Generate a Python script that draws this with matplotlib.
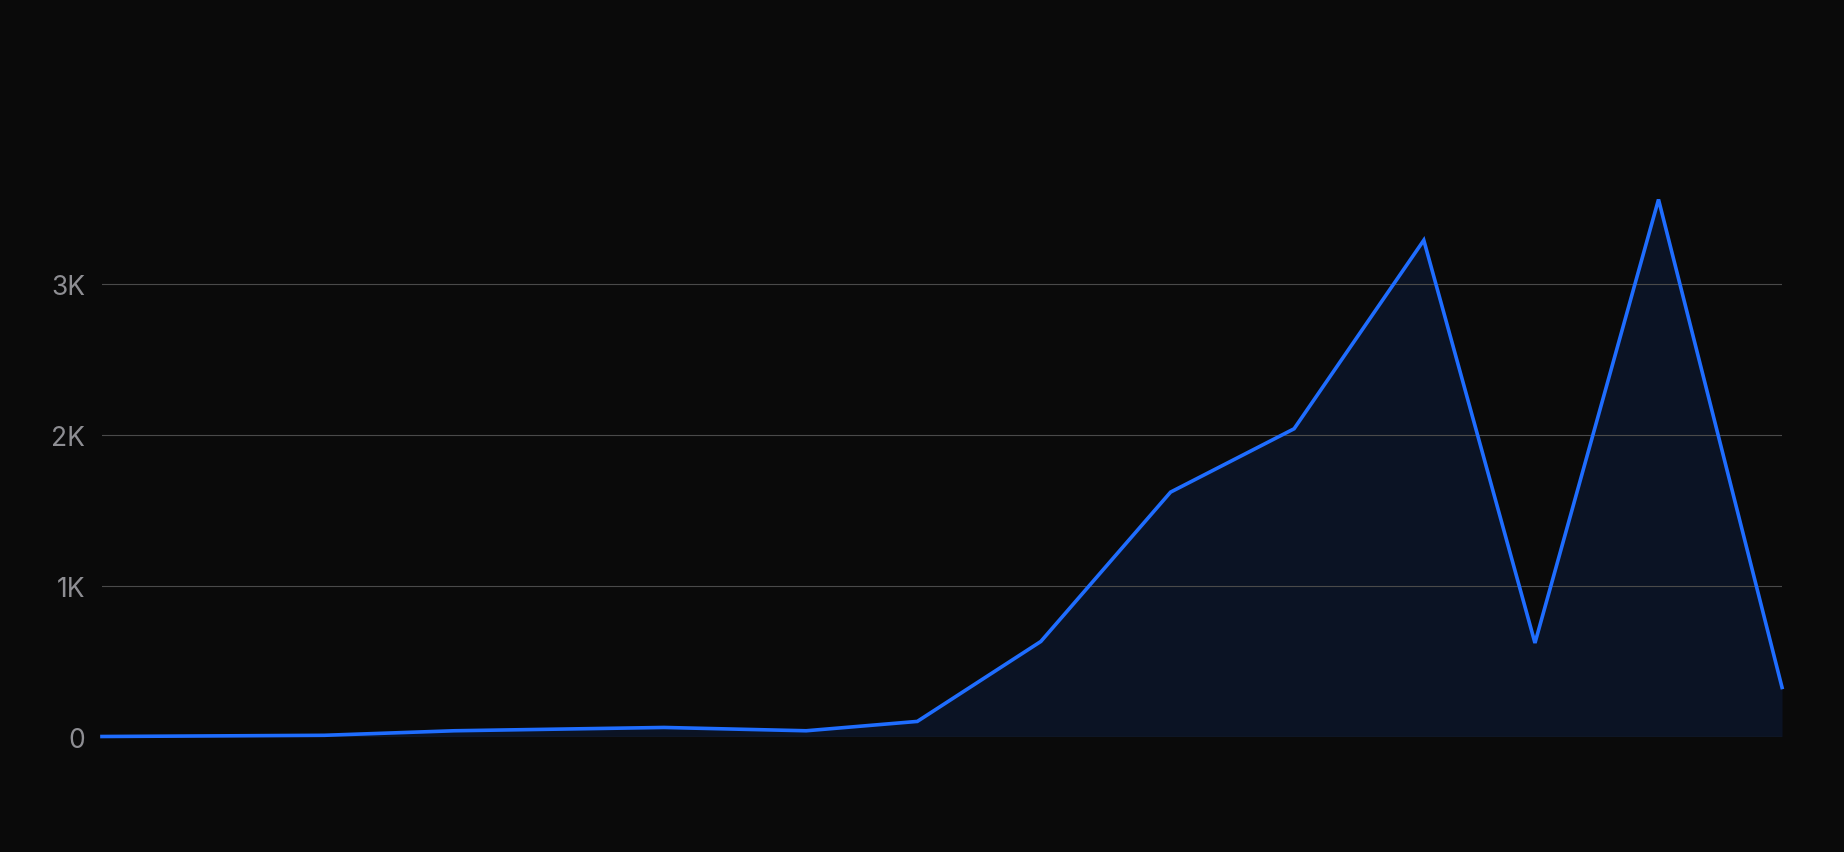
import matplotlib
matplotlib.use("Agg")
import matplotlib.pyplot as plt
from matplotlib.ticker import FuncFormatter

# Data
x_pos = [0, 1.8, 2.85, 4.55, 5.7, 6.6, 7.6, 8.65, 9.65, 10.7, 11.6, 12.6, 13.6]
values = [0, 8, 38, 60, 38, 100, 630, 1620, 2040, 3290, 620, 3560, 325]
y_ticks = [0, 1000, 2000, 3000]

BG = "#0a0a0a"
LINE = "#1f6dff"
FILL = "#0b1324"
GRID = "#4a4a4a"
TICK = "#8e8e93"

fig = plt.figure(figsize=(18.44, 8.53), dpi=100, facecolor=BG)
ax = fig.add_axes([0.0553, 0.1354, 0.9111, 0.672])
ax.set_facecolor(BG)

ax.fill_between(x_pos, values, 0, color=FILL, linewidth=0, zorder=1)
ax.plot(x_pos, values, color=LINE, linewidth=2.6, solid_joinstyle="miter",
        zorder=3, clip_on=False)

ax.set_xlim(x_pos[0], x_pos[-1])
ax.set_ylim(0, 3800)
ax.set_yticks(y_ticks)
ax.yaxis.set_major_formatter(FuncFormatter(lambda v, p: "0" if v == 0 else f"{int(v/1000)}K"))
ax.set_xticks([])
ax.grid(axis="y", color=GRID, linewidth=0.8, zorder=0)
ax.tick_params(axis="y", length=0, pad=12, labelsize=19, labelcolor=TICK)
for lbl in ax.get_yticklabels():
    lbl.set_fontfamily(["Inter", "DejaVu Sans"])
for s in ax.spines.values():
    s.set_visible(False)

fig.savefig("out.png", dpi=100, facecolor=BG)
